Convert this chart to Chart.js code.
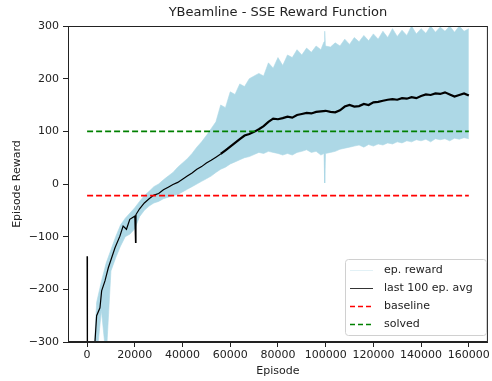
<!DOCTYPE html>
<html>
<head>
<meta charset="utf-8">
<script src="https://cdn.jsdelivr.net/npm/chart.js@4/dist/chart.umd.min.js"></script>
<style>
  html, body { margin: 0; padding: 0; background: #fff; }
  #wrap { width: 492px; height: 381px; }
</style>
</head>
<body>
<div id="wrap"><canvas id="reward_canvas"></canvas></div>
<script>
// episode reward envelope (upper / lower edge of the light blue band)
const bandEpisodes = [0, 2000, 4000, 6000, 8000, 10000, 12000, 14000, 16000, 18000, 20000,
  22000, 24000, 26000, 28000, 30000, 32000, 34000, 36000, 38000, 40000,
  42000, 44000, 46000, 48000, 50000, 52000, 54000, 56000, 58000, 60000,
  62000, 64000, 66000, 68000, 70000, 72000, 74000, 76000, 78000, 80000,
  82000, 84000, 86000, 88000, 90000, 92000, 94000, 96000, 98000, 99300, 99600, 99900,
  102000, 104000, 106000, 108000, 110000, 112000, 114000, 116000, 118000, 120000,
  122000, 124000, 126000, 128000, 130000, 132000, 134000, 136000, 138000, 140000,
  142000, 144000, 146000, 148000, 150000, 152000, 154000, 156000, 158000, 160000];
const bandUpper = [-400, -400, -225, -185, -150, -125, -100, -78, -65, -55, -45,
  -33, -22, -14, -5, 0, 8, 15, 22, 32, 40,
  48, 58, 70, 80, 92, 105, 118, 150, 145, 175,
  170, 190, 185, 200, 205, 210, 205, 230, 220, 240,
  225, 245, 240, 255, 245, 258, 250, 262, 255, 270, 290, 262,
  260, 268, 262, 275, 265, 278, 270, 282, 272, 285,
  275, 290, 278, 295, 280, 292, 282, 300, 285, 295,
  286, 300, 288, 298, 290, 300, 288, 300, 290, 295];
const bandLower = [-400, -400, -330, -240, -330, -165, -140, -118, -100, -95, -85,
  -62, -50, -42, -36, -33, -28, -25, -22, -20, -15,
  -10, -5, 0, 5, 10, 15, 22, 28, 32, 38,
  42, 46, 50, 52, 56, 60, 58, 62, 60, 58,
  55, 58, 55, 60, 62, 65, 60, 62, 55, 58, 2, 58,
  60, 62, 66, 68, 70, 72, 74, 70, 75, 72,
  76, 74, 78, 76, 80, 78, 82, 80, 84, 82,
  85, 80, 86, 84, 86, 82, 87, 85, 88, 86];

// last 100 episode average
const avgEpisodes = [0, 150, 3300, 4000, 5400, 6100, 7500, 8900, 10300, 11700, 13750,
  15100, 16500, 17900, 20000, 20300, 20500, 22000, 24000, 26000, 28000, 30000,
  32000, 34000, 36000, 38000, 40000, 42000, 44000, 46000, 48000, 50000,
  52000, 54000, 56000, 58000, 60000, 62000, 64000, 66000, 68000, 70000,
  72000, 74000, 76000, 78000, 80000, 82000, 84000, 86000, 88000, 90000,
  92000, 94000, 96000, 98000, 100000, 102000, 104000, 106000, 108000, 110000,
  112000, 114000, 116000, 118000, 120000, 122000, 124000, 126000, 128000, 130000,
  132000, 134000, 136000, 138000, 140000, 142000, 144000, 146000, 148000, 150000,
  152000, 154000, 156000, 158000, 160000];
const avgReward = [-137, -420, -300, -250, -235, -203, -184, -159, -140, -121, -99,
  -80, -86, -67, -61, -111, -58, -47, -36, -28, -21, -18,
  -11, -6, -1, 3, 9, 15, 21, 28, 33, 40,
  45, 51, 57, 64, 71, 78, 85, 92, 95, 99,
  104, 110, 118, 124, 123, 125, 128, 126, 131, 133,
  135, 134, 137, 138, 139, 137, 136, 140, 147, 150,
  147, 148, 152, 150, 155, 156, 158, 160, 161, 160,
  163, 162, 165, 163, 167, 170, 169, 172, 171, 174,
  170, 166, 169, 172, 168];

const baselineValue = -22;
const solvedValue = 100;
const episodeRange = [0, 160000];

const xTicks = [0, 20000, 40000, 60000, 80000, 100000, 120000, 140000, 160000];
const yTicks = [-300, -200, -100, 0, 100, 200, 300];

function pairs(xs, ys) {
  return xs.map(function (x, i) { return { x: x, y: ys[i] }; });
}

const FONT = "'DejaVu Sans', sans-serif";
const legendItems = [
  { text: 'ep. reward', color: 'rgba(173,216,230,0.35)', dash: [], width: 1 },
  { text: 'last 100 ep. avg', color: '#000', dash: [], width: 0.8 },
  { text: 'baseline', color: '#ff0000', dash: [5, 3], width: 1.6 },
  { text: 'solved', color: '#008000', dash: [5, 3], width: 1.6 }
];

// frame, title and legend drawn the matplotlib way
const extras = {
  id: 'extras',
  afterDatasetsDraw(chart) {
    const ctx = chart.ctx;
    const a = chart.chartArea;
    ctx.save();
    ctx.strokeStyle = '#222';
    ctx.lineWidth = 1;
    ctx.strokeRect(a.left + 0.5, a.top + 0.5, a.right - a.left - 1, a.bottom - a.top - 1);

    ctx.fillStyle = '#222';
    ctx.font = '13px ' + FONT;
    ctx.textAlign = 'center';
    ctx.textBaseline = 'middle';
    ctx.fillText('YBeamline - SSE Reward Function', (a.left + a.right) / 2, 13);

    // legend box
    const bx = 345, by = 259, bw = 141, bh = 76;
    ctx.fillStyle = 'rgba(255,255,255,0.8)';
    ctx.strokeStyle = '#d0d0d0';
    ctx.beginPath();
    ctx.roundRect(bx + 0.5, by + 0.5, bw, bh, 3);
    ctx.fill();
    ctx.stroke();
    ctx.font = '11px ' + FONT;
    ctx.textAlign = 'left';
    legendItems.forEach(function (it, i) {
      const y = by + 11 + i * 18;
      ctx.strokeStyle = it.color;
      ctx.lineWidth = it.width;
      ctx.setLineDash(it.dash);
      ctx.beginPath();
      ctx.moveTo(350, y + 0.5);
      ctx.lineTo(373, y + 0.5);
      ctx.stroke();
      ctx.setLineDash([]);
      ctx.fillStyle = '#222';
      ctx.fillText(it.text, 384, y);
    });
    ctx.restore();
  }
};

const config = {
  type: 'line',
  data: {
    datasets: [{
      label: 'ep. reward',
      data: pairs(bandEpisodes, bandUpper),
      borderColor: '#add8e6',
      backgroundColor: '#add8e6',
      borderWidth: 0.6,
      pointRadius: 0,
      fill: '+1',
      order: 5,
    }, {
      label: 'ep. reward low',
      data: pairs(bandEpisodes, bandLower),
      borderColor: '#add8e6',
      borderWidth: 0.6,
      pointRadius: 0,
      fill: false,
      order: 4,
    }, {
      label: 'last 100 ep. avg',
      data: pairs(avgEpisodes, avgReward),
      borderColor: '#000',
      borderWidth: 1.2,
      pointRadius: 0,
      fill: false,
      order: 3,
      segment: {
        borderWidth: function (c) { return c.p0.parsed.x >= 56000 ? 2.2 : 1.2; }
      }
    }, {
      label: 'baseline',
      data: pairs(episodeRange, [baselineValue, baselineValue]),
      borderColor: '#ff0000',
      borderWidth: 1.6,
      borderDash: [6, 3],
      pointRadius: 0,
      fill: false,
      order: 2,
    }, {
      label: 'solved',
      data: pairs(episodeRange, [solvedValue, solvedValue]),
      borderColor: '#008000',
      borderWidth: 1.6,
      borderDash: [6, 3],
      pointRadius: 0,
      fill: false,
      order: 1,
    }]
  },
  options: {
    responsive: true,
    maintainAspectRatio: false,
    animation: false,
    layout: { padding: { top: 26, right: 4, left: 0, bottom: 0 } },
    plugins: {
      legend: { display: false },
      tooltip: { enabled: false },
      title: { display: false }
    },
    scales: {
      x: {
        type: 'linear',
        min: -8000,
        max: 168000,
        afterBuildTicks: function (s) { s.ticks = xTicks.map(function (v) { return { value: v }; }); },
        afterFit: function (s) { s.height = 39; },
        grid: { drawOnChartArea: false, tickLength: 5, color: '#222' },
        border: { color: '#222' },
        ticks: {
          padding: 2, color: '#222', maxRotation: 0, autoSkip: false,
          font: { family: FONT, size: 11 },
          callback: function (v) { return String(v); }
        },
        title: {
          display: true, text: 'Episode', color: '#222',
          font: { family: FONT, size: 11 }, padding: { top: 0, bottom: 3 }
        }
      },
      y: {
        min: -300,
        max: 300,
        afterBuildTicks: function (s) { s.ticks = yTicks.map(function (v) { return { value: v }; }); },
        afterFit: function (s) { s.width = 68; },
        grid: { drawOnChartArea: false, tickLength: 5, color: '#222' },
        border: { color: '#222' },
        ticks: {
          padding: 4, color: '#222',
          font: { family: FONT, size: 11 },
          callback: function (v) { return String(v).replace('-', '\u2212'); }
        },
        title: {
          display: true, text: 'Episode Reward', color: '#222',
          font: { family: FONT, size: 11 }, padding: { top: 11, bottom: 0 }
        }
      }
    }
  },
  plugins: [extras]
};

var reward_chart = new Chart(document.getElementById('reward_canvas').getContext('2d'), config);
</script>
</body>
</html>
